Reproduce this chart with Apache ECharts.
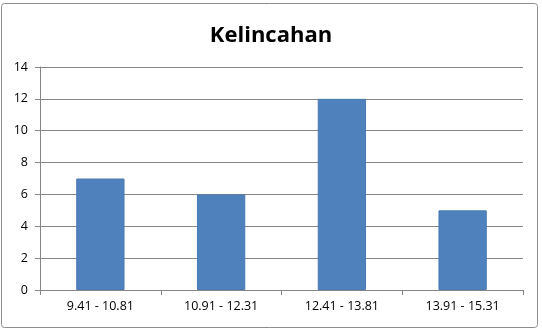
<!DOCTYPE html>
<html><head><meta charset="utf-8">
<script src="https://cdn.jsdelivr.net/npm/echarts@6/dist/echarts.min.js"></script>
<style>html,body{margin:0;padding:0;background:#fff}#c{width:542px;height:330px}</style>
</head><body><div id="c"></div>
<script>
var categories = ['9.41 - 10.81', '10.91 - 12.31', '12.41 - 13.81', '13.91 - 15.31'];
var values = [7, 6, 12, 5];
var yTicks = [0, 2, 4, 6, 8, 10, 12, 14];
var chart = echarts.init(document.getElementById('c'));
chart.setOption({
  animation: false,
  graphic: [{type: 'rect', shape: {x: 1.5, y: 3.5, width: 536, height: 324, r: 3}, style: {fill: 'none', stroke: '#8c8c8c', lineWidth: 1}}],
  title: {text: 'Kelincahan', left: 'center', top: 20, textStyle: {fontFamily: 'Open Sans', fontWeight: 'bold', fontSize: 22, color: '#000'}},
  grid: {left: 40, right: 19, top: 67, bottom: 40},
  xAxis: {type: 'category', data: categories,
    axisLine: {lineStyle: {color: '#868686'}},
    axisTick: {show: true, length: 5, lineStyle: {color: '#868686'}},
    axisLabel: {color: '#000', fontFamily: 'Open Sans', fontSize: 12.5, margin: 10}},
  yAxis: {type: 'value', min: yTicks[0], max: yTicks[yTicks.length-1], interval: 2,
    axisLine: {show: true, lineStyle: {color: '#868686'}},
    axisTick: {show: true, length: 5, lineStyle: {color: '#868686'}},
    splitLine: {lineStyle: {color: '#868686'}},
    axisLabel: {color: '#000', fontFamily: 'Open Sans', fontSize: 12.5, margin: 12}},
  series: [{type: 'bar', data: values, barWidth: '40%',
    itemStyle: {color: '#4F81BD', borderColor: '#4a7ab3', borderWidth: 1}}]
});
</script></body></html>
